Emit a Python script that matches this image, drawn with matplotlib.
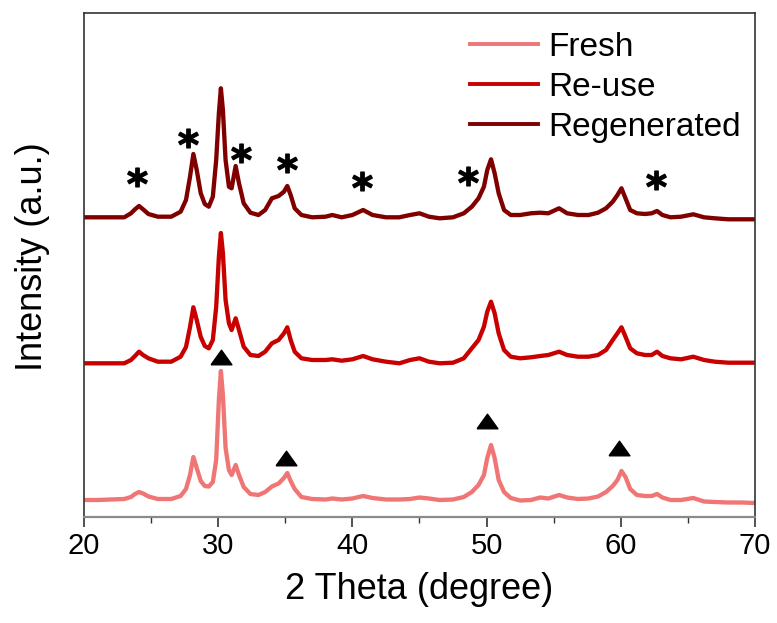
import matplotlib
matplotlib.use("Agg")
import matplotlib.pyplot as plt

plt.rcParams["font.family"] = ["Liberation Sans", "DejaVu Sans"]
plt.rcParams["mathtext.fontset"] = "dejavusans"

# 2 theta positions (deg) where the patterns were read
two_theta = [20.0, 21.0, 22.0, 23.0,
             23.5, 23.8, 24.1, 24.4, 24.8,
             25.5, 26.5,
             27.2, 27.6, 27.9, 28.15, 28.4, 28.7,
             29.0, 29.3, 29.6, 29.85,
             30.05, 30.2, 30.35, 30.55, 30.8,
             31.0, 31.3, 31.55, 31.9,
             32.4, 33.0, 33.5,
             34.0, 34.5, 34.9, 35.15, 35.4, 35.7,
             36.2, 37.0, 38.0, 38.5, 39.2,
             40.0, 40.8, 41.5, 42.5,
             43.5, 44.3, 45.0, 45.7, 46.5, 47.5,
             48.3, 48.9, 49.4, 49.8,
             50.05, 50.33, 50.6, 50.9,
             51.3, 51.8, 52.5, 53.3,
             54.0, 54.6, 55.4, 56.0, 56.8, 57.6,
             58.3, 58.9, 59.4, 59.75,
             60.05, 60.35, 60.7,
             61.2, 61.8, 62.3, 62.7,
             63.1, 63.7, 64.5, 65.4,
             66.2, 67.0, 68.0, 69.0, 70.0]

fresh = [3, 3, 3.5, 4,
         6, 9, 11, 9.5, 6.5,
         4, 4,
         7, 14, 28, 46, 35, 22,
         17, 16.5, 21, 43,
         103, 132, 108, 55, 33,
         28, 38, 28, 16,
         9, 8, 11,
         16.5, 19.5, 25, 30, 22, 14,
         6, 4, 3.5, 4.5, 3.5,
         4.5, 7, 5, 3.5,
         3.5, 4, 5.5, 4.5, 3, 3.5,
         6, 11, 18, 28,
         45, 58, 45, 23,
         11, 5, 2.5, 3,
         5.5, 4.5, 8, 5.5, 4, 4.5,
         6.5, 11, 17, 23,
         32, 26, 14,
         8, 7, 7, 9,
         5.5, 3, 3, 5,
         1.5, 1, 0.5, 0.5, 0]

reuse = [2.7, 2.7, 2.7, 2.7,
         6, 10, 14.3, 11, 7.7,
         4.3, 4.3,
         9.3, 19, 39, 58.7, 46, 29,
         20, 17.7, 26, 59,
         109, 133, 113, 66, 42.7,
         36, 47.7, 36, 19.3,
         11, 10, 14.3,
         22.7, 26, 32.7, 38.7, 26, 14.3,
         7.7, 6, 6, 6.7, 5.3,
         6.7, 10, 6.7, 4.3,
         2.7, 6, 7.7, 4.3, 2.7, 3.3,
         7.7, 17.7, 26, 39.3,
         54.3, 64.3, 52.7, 32.7,
         16, 9.3, 7.7, 8.7,
         10, 11, 14.3, 11, 9.3, 9.3,
         11, 16, 26, 32.7,
         38.7, 29.3, 17.7,
         12.7, 11, 11, 14.3,
         10, 7.7, 6.7, 9.3,
         6, 4.3, 3.3, 3.3, 3.3]

regenerated = [2.7, 2.7, 2.7, 2.7,
               6.7, 10.7, 14, 10.7, 6,
               3.3, 3.3,
               8.3, 20, 43.3, 66, 50, 26.7,
               16, 13.3, 23.3, 60,
               106.7, 131.7, 110, 60, 33.3,
               31.7, 54, 36.7, 16.7,
               7.3, 5, 10,
               21.7, 24, 28.3, 34, 25, 11.7,
               5, 2.7, 3.3, 5, 2.7,
               5, 10, 5, 2.7,
               2.7, 5, 6.7, 3.3, 1.7, 2.7,
               6.7, 13.3, 21.7, 33.3,
               50, 60.7, 46.7, 26.7,
               10, 5, 5, 6.7,
               7.3, 6.7, 11.7, 6.7, 5, 5,
               7.3, 11.7, 18.3, 25,
               31.7, 21.7, 10,
               6.7, 6, 6.7, 9,
               5, 2.7, 3.3, 5.7,
               2.7, 1.7, 0.7, 0.7, 0.7]

labels = ["Fresh", "Re-use", "Regenerated"]

# peak marks
star_x = [23.93, 27.77, 31.67, 35.1, 40.69, 48.64, 62.62]
star_y = [339.7, 378.7, 363.7, 354.3, 336.3, 341.0, 337.0]
tri_x = [30.18, 35.05, 50.05, 59.9]
tri_y = [160.3, 58.7, 96.3, 68.7]

colors = ["#F07575", "#C80000", "#800000"]
offsets = [14, 151, 297]

fig = plt.figure(figsize=(7.77, 6.23), dpi=100)
ax = fig.add_axes([84 / 777, 1 - 517 / 623, 671 / 777, 504 / 623])

for series, lab, col, off in zip([fresh, reuse, regenerated], labels, colors, offsets):
    ax.plot(two_theta, [v + off for v in series], color=col, lw=3.1,
            label=lab, solid_joinstyle="round")

ax.plot(star_x, star_y, ls="none", marker=r"$\mathbf{*}$", ms=14, color="black")
tri_marker = [(-1, -0.7), (1, -0.7), (0, 0.7), (-1, -0.7)]
ax.plot(tri_x, tri_y, ls="none", marker=tri_marker, ms=15, color="black")

ax.set_xlim(20, 70)
ax.set_ylim(0, 504)
ax.set_xticks([20, 30, 40, 50, 60, 70])
ax.set_xticks([25, 35, 45, 55, 65], minor=True)
ax.set_yticks([])
ax.tick_params(axis="x", which="major", direction="out", length=7, width=1.2,
               color="#333333", labelsize=21, pad=4)
ax.tick_params(axis="x", which="minor", direction="out", length=4, width=1.0,
               color="#333333")

for side in ["top", "left", "right"]:
    ax.spines[side].set_color("#333333")
    ax.spines[side].set_linewidth(1.2)
ax.spines["bottom"].set_color("#8a8a8a")
ax.spines["bottom"].set_linewidth(1.6)

ax.set_xlabel("2 Theta (degree)", fontsize=26)
ax.set_ylabel("Intensity (a.u.)", fontsize=26)
ax.xaxis.set_label_coords(0.5, -0.109)
ax.yaxis.set_label_coords(-0.0507, 0.517)

leg = ax.legend(loc="upper right", bbox_to_anchor=(0.979, 0.962), frameon=False,
                fontsize=24, handlelength=2.05, handletextpad=0.3,
                labelspacing=0.27, borderpad=0, borderaxespad=0)
for h in leg.get_lines():
    h.set_linewidth(2.8)

fig.savefig("out.png", dpi=100)
